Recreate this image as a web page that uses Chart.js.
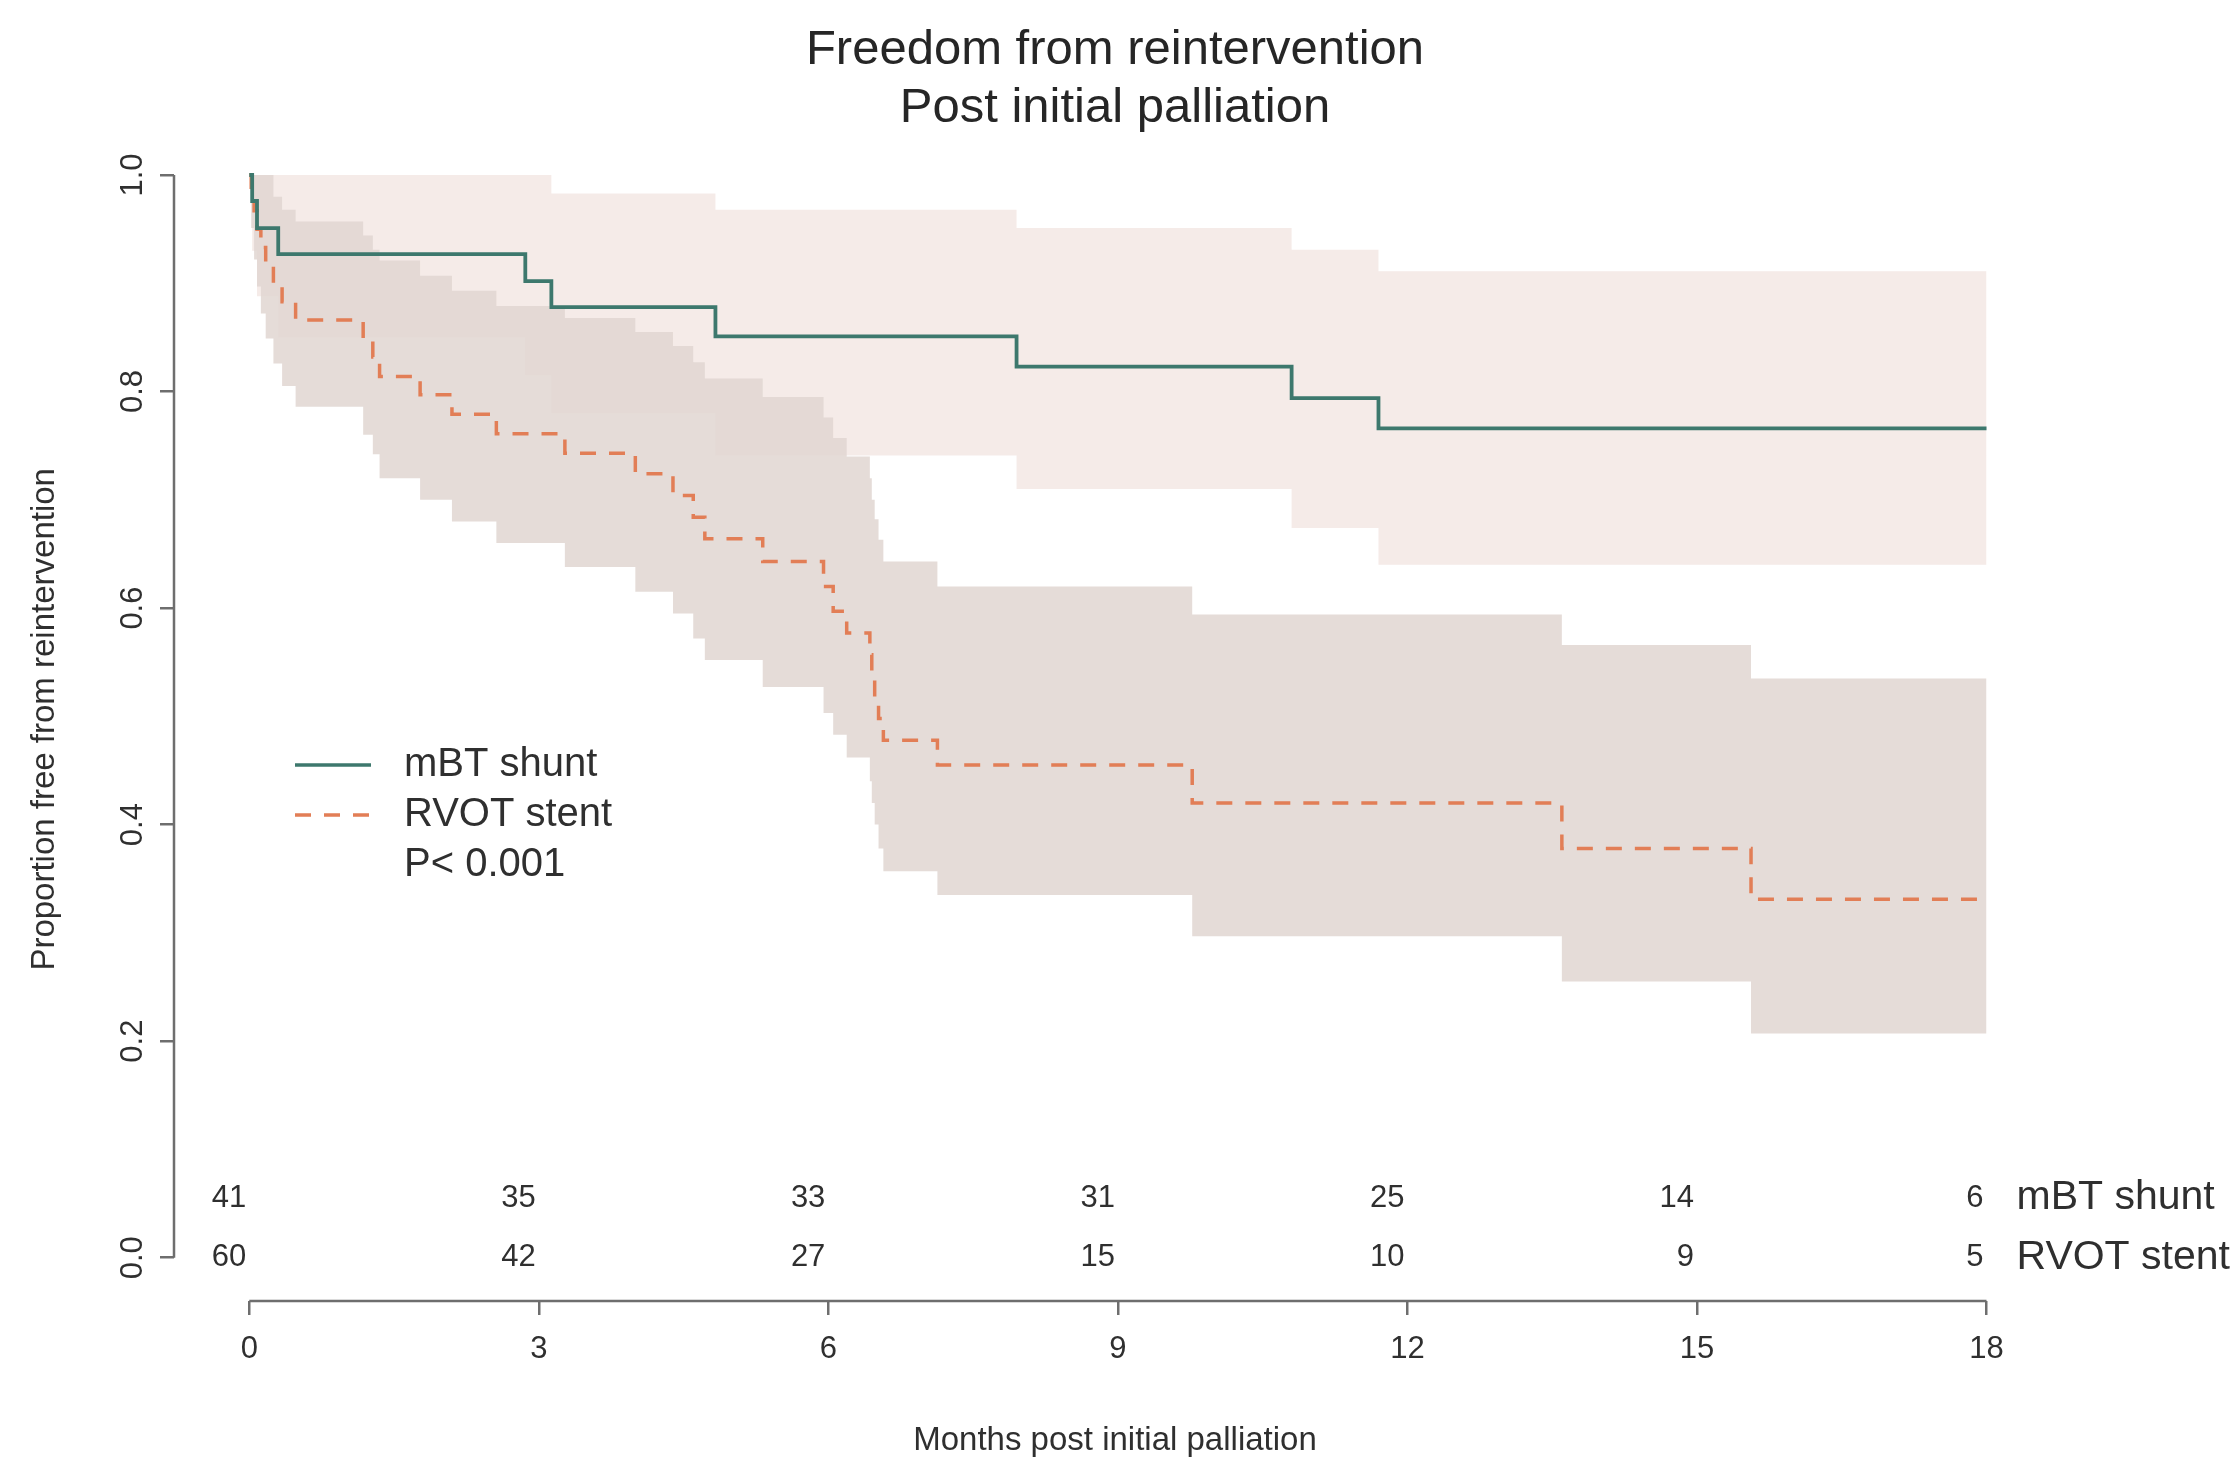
<!DOCTYPE html>
<html>
<head>
<meta charset="utf-8">
<title>Freedom from reintervention</title>
<script src="https://cdn.jsdelivr.net/npm/chart.js@4.4.1/dist/chart.umd.min.js"></script>
<style>
  html, body { margin: 0; padding: 0; background: #fff; }
  #wrap { width: 2233px; height: 1457px; }
</style>
</head>
<body>
<div id="wrap"><canvas id="km"></canvas></div>
<script>
// --- data (months, survival proportion, 95% CI) ---
const titleLines = ["Freedom from reintervention", "Post initial palliation"];
const xTitle = "Months post initial palliation";
const yTitle = "Proportion free from reintervention";
const groupNames = ["mBT shunt", "RVOT stent"];
const legendExtra = "P< 0.001";

const xTicks = [0, 3, 6, 9, 12, 15, 18];
const yTicks = [0, 0.2, 0.4, 0.6, 0.8, 1.0];

const mbtTime  = [0, 0.03, 0.08, 0.30, 2.86, 3.13, 4.83, 7.95, 10.80, 11.70, 18];
const mbtSurv  = [1.0, 0.976, 0.951, 0.927, 0.902, 0.878, 0.851, 0.823, 0.794, 0.766, 0.766];
const mbtUpper = [1.0, 1.0, 1.0, 1.0, 1.0, 0.983, 0.968, 0.951, 0.931, 0.911, 0.911];
const mbtLower = [1.0, 0.930, 0.888, 0.850, 0.815, 0.780, 0.741, 0.710, 0.674, 0.640, 0.640];

const rvotTime  = [0, 0.02, 0.05, 0.08, 0.12, 0.17, 0.25, 0.34, 0.48, 1.18, 1.28, 1.35, 1.77, 2.10, 2.56,
                   3.27, 4.00, 4.39, 4.60, 4.72, 5.32, 5.95, 6.05, 6.19, 6.43, 6.45, 6.48, 6.52, 6.57,
                   7.13, 9.77, 13.60, 15.56, 18];
const rvotSurv  = [1.0, 0.983, 0.967, 0.950, 0.933, 0.917, 0.900, 0.883, 0.866, 0.849, 0.832, 0.814, 0.797, 0.779, 0.761,
                   0.743, 0.724, 0.704, 0.684, 0.664, 0.643, 0.620, 0.597, 0.577, 0.557, 0.537, 0.517, 0.498, 0.478,
                   0.455, 0.420, 0.378, 0.331, 0.331];
const rvotUpper = [1.0, 1.0, 1.0, 1.0, 1.0, 1.0, 0.980, 0.968, 0.957, 0.944, 0.931, 0.921, 0.907, 0.893, 0.879,
                   0.868, 0.855, 0.842, 0.827, 0.812, 0.795, 0.776, 0.757, 0.740, 0.720, 0.700, 0.682, 0.663, 0.643,
                   0.620, 0.594, 0.566, 0.535, 0.535];
const rvotLower = [1.0, 0.951, 0.922, 0.897, 0.872, 0.849, 0.826, 0.805, 0.786, 0.760, 0.742, 0.720, 0.700, 0.680, 0.660,
                   0.638, 0.615, 0.595, 0.572, 0.552, 0.527, 0.503, 0.483, 0.462, 0.440, 0.420, 0.400, 0.378, 0.357,
                   0.335, 0.297, 0.255, 0.207, 0.207];

const riskTimes = [0, 3, 6, 9, 12, 15, 18];
const riskMbt   = [41, 35, 33, 31, 25, 14, 6];
const riskRvot  = [60, 42, 27, 15, 10, 9, 5];
const riskRows  = [0.055, 0];   // y-levels of the two at-risk rows

// --- styling ---
const FONT = '"Liberation Sans", Arial, Helvetica, sans-serif';
const textColor = '#2f2f2f';
const axisColor = '#6e6e6e';
const mbtColor = '#3d786d';
const rvotColor = '#e27e56';
const rvotDash = [16, 13];
const mbtBand = 'rgba(222, 190, 180, 0.3)';
const rvotBand = 'rgba(224, 214, 209, 0.85)';

Chart.defaults.font.family = FONT;
Chart.defaults.color = textColor;

function pts(times, values) {
  return times.map((t, i) => ({ x: t, y: values[i] }));
}

// axis lines (R style, first to last tick), numbers at risk and legend
const overlay = {
  id: 'overlay',
  afterDraw(chart) {
    const { ctx, chartArea, scales: { x, y } } = chart;
    ctx.save();

    ctx.strokeStyle = axisColor;
    ctx.lineWidth = 2.5;
    ctx.beginPath();
    ctx.moveTo(x.getPixelForValue(xTicks[0]), chartArea.bottom);
    ctx.lineTo(x.getPixelForValue(xTicks[xTicks.length - 1]), chartArea.bottom);
    ctx.moveTo(chartArea.left, y.getPixelForValue(yTicks[0]));
    ctx.lineTo(chartArea.left, y.getPixelForValue(yTicks[yTicks.length - 1]));
    ctx.stroke();

    ctx.fillStyle = textColor;
    ctx.textBaseline = 'middle';
    [riskMbt, riskRvot].forEach((row, r) => {
      const py = y.getPixelForValue(riskRows[r]);
      ctx.font = '31px ' + FONT;
      ctx.textAlign = 'right';
      row.forEach((n, i) => ctx.fillText(String(n), x.getPixelForValue(riskTimes[i]) - 3, py));
      ctx.font = '41px ' + FONT;
      ctx.textAlign = 'left';
      ctx.fillText(groupNames[r], x.getPixelForValue(riskTimes[riskTimes.length - 1]) + 30, py);
    });

    // legend inside the plot
    const lx0 = chartArea.left + 121, lx1 = chartArea.left + 197, tx = chartArea.left + 230;
    const ly = y.getPixelForValue(0.455), gap = 50;
    const items = [
      { color: mbtColor, dash: [] },
      { color: rvotColor, dash: rvotDash }
    ];
    ctx.font = '40px ' + FONT;
    ctx.textAlign = 'left';
    items.forEach((it, i) => {
      const py = ly + i * gap;
      ctx.strokeStyle = it.color;
      ctx.lineWidth = 3.5;
      ctx.setLineDash(it.dash);
      ctx.beginPath();
      ctx.moveTo(lx0, py);
      ctx.lineTo(lx1, py);
      ctx.stroke();
      ctx.setLineDash([]);
      ctx.fillText(groupNames[i], tx, py);
    });
    ctx.fillText(legendExtra, tx, ly + 2 * gap);

    ctx.restore();
  }
};

const lineBase = { stepped: 'before', pointRadius: 0, tension: 0 };

new Chart(document.getElementById('km'), {
  type: 'line',
  data: {
    datasets: [
      { ...lineBase, label: groupNames[0], data: pts(mbtTime, mbtSurv),
        borderColor: mbtColor, borderWidth: 3.8, fill: false, order: 0 },
      { ...lineBase, label: groupNames[1], data: pts(rvotTime, rvotSurv),
        borderColor: rvotColor, borderWidth: 3.5, borderDash: rvotDash, fill: false, order: 1 },
      { ...lineBase, label: 'RVOT upper', data: pts(rvotTime, rvotUpper),
        borderColor: 'transparent', borderWidth: 0, fill: false, order: 2 },
      { ...lineBase, label: 'RVOT lower', data: pts(rvotTime, rvotLower),
        borderColor: 'transparent', borderWidth: 0, backgroundColor: rvotBand, fill: 2, order: 2 },
      { ...lineBase, label: 'mBT upper', data: pts(mbtTime, mbtUpper),
        borderColor: 'transparent', borderWidth: 0, fill: false, order: 3 },
      { ...lineBase, label: 'mBT lower', data: pts(mbtTime, mbtLower),
        borderColor: 'transparent', borderWidth: 0, backgroundColor: mbtBand, fill: 4, order: 3 }
    ]
  },
  options: {
    responsive: true,
    maintainAspectRatio: false,
    animation: false,
    layout: { padding: { left: 0, right: 177, top: 0, bottom: 0 } },
    plugins: {
      legend: { display: false },
      tooltip: { enabled: false },
      title: {
        display: true,
        text: titleLines,
        fullSize: false,
        color: '#262626',
        font: { size: 49, lineHeight: 1.18, weight: 'normal' },
        padding: { top: 22, bottom: 0 }
      }
    },
    scales: {
      x: {
        type: 'linear',
        min: -0.78,
        max: 18.72,
        afterBuildTicks: s => { s.ticks = xTicks.map(v => ({ value: v })); },
        afterFit: s => { s.height = 156; },
        border: { display: false },
        grid: { drawOnChartArea: false, drawTicks: true, tickLength: 14, color: axisColor, lineWidth: 2.5 },
        ticks: { font: { size: 31 }, padding: 16, color: textColor, maxRotation: 0 },
        title: { display: true, text: xTitle, color: textColor, font: { size: 33, lineHeight: 1 }, padding: 0 }
      },
      y: {
        type: 'linear',
        min: -0.04,
        max: 1.0345,
        afterBuildTicks: s => { s.ticks = yTicks.map(v => ({ value: v })); },
        afterFit: s => { s.width = 174; },
        border: { display: false },
        grid: { drawOnChartArea: false, drawTicks: true, tickLength: 14, color: axisColor, lineWidth: 2.5 },
        ticks: {
          font: { size: 31 }, color: textColor, padding: 5,
          minRotation: 90, maxRotation: 90, crossAlign: 'center',
          callback: v => Number(v).toFixed(1)
        },
        title: { display: true, text: yTitle, color: textColor, font: { size: 33, lineHeight: 1.2 }, padding: { top: 25, bottom: 0 } }
      }
    }
  },
  plugins: [overlay]
});
</script>
</body>
</html>
